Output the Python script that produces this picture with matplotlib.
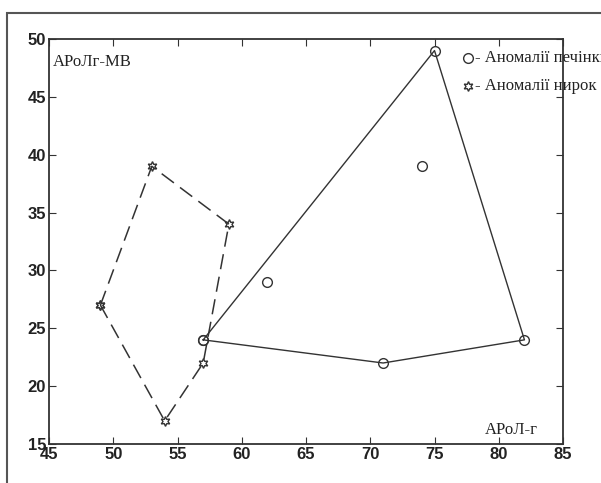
import matplotlib.pyplot as plt
from matplotlib.patches import Rectangle

# liver anomalies (circles): hull points + inner points
liver_hull_x = [57, 75, 82, 71, 57]
liver_hull_y = [24, 49, 24, 22, 24]
liver_in_x = [62, 74]
liver_in_y = [29, 39]

# kidney anomalies (stars)
kidney_x = [49, 53, 59, 57, 54, 49]
kidney_y = [27, 39, 34, 22, 17, 27]

xticks = [45, 50, 55, 60, 65, 70, 75, 80, 85]
yticks = [15, 20, 25, 30, 35, 40, 45, 50]

col = '#333333'
star = (6, 1, 0)

fig = plt.figure(figsize=(6.01, 4.83), dpi=100)
ax = fig.add_axes([49/601, 39/483, (563-49)/601, (444-39)/483])

# outer frame
fig.add_artist(Rectangle((7/601, -0.1), 1.2, (483-13)/483 + 0.1, transform=fig.transFigure,
                         fill=False, edgecolor='#555555', linewidth=1.5, clip_on=False))

ax.plot(kidney_x, kidney_y, color=col, linewidth=1.1, dashes=(10, 5),
        marker=star, markersize=7, markerfacecolor='none', markeredgecolor=col)
ax.plot(liver_hull_x, liver_hull_y, color=col, linewidth=1.0,
        marker='o', markersize=7, markerfacecolor='none', markeredgecolor=col)
ax.plot(liver_in_x, liver_in_y, linestyle='none',
        marker='o', markersize=7, markerfacecolor='none', markeredgecolor=col)

ax.set_xlim(45, 85)
ax.set_ylim(15, 50)
ax.set_xticks(xticks)
ax.set_yticks(yticks)
ax.tick_params(direction='in', length=5, top=True, right=True, color=col, pad=2)
for lab in ax.get_xticklabels() + ax.get_yticklabels():
    lab.set_fontfamily('Liberation Sans')
    lab.set_fontweight('bold')
    lab.set_fontsize(12)
    lab.set_color('#222222')
for s in ax.spines.values():
    s.set_color(col)
    s.set_linewidth(1.3)

tf = dict(family='Liberation Serif', fontsize=12, color='#222222')
ax.text(53/601, 1 - 62/483, 'АРоЛг-МВ', transform=fig.transFigure, va='center', ha='left', **tf)
ax.text(485/601, 1 - 430/483, 'АРоЛ-г', transform=fig.transFigure, va='center', ha='left', **tf)

# legend (drawn by hand, runs past the right edge)
ax.plot([468/601], [1 - 58/483], transform=fig.transFigure, clip_on=False, linestyle='none',
        marker='o', markersize=7, markerfacecolor='none', markeredgecolor=col)
ax.plot([468/601], [1 - 86/483], transform=fig.transFigure, clip_on=False, linestyle='none',
        marker=star, markersize=7, markerfacecolor='none', markeredgecolor=col)
ax.text(475/601, 1 - 58/483, '- Аномалії печінки', transform=fig.transFigure,
        va='center', ha='left', clip_on=False, **tf)
ax.text(475/601, 1 - 86/483, '- Аномалії нирок', transform=fig.transFigure,
        va='center', ha='left', clip_on=False, **tf)

fig.savefig('out.png', dpi=100)
